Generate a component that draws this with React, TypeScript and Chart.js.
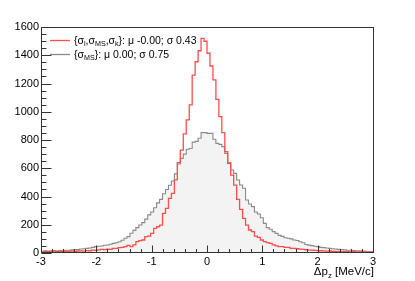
import { useEffect, useRef } from "react";
import { Chart, registerables } from "chart.js";

Chart.register(...registerables);

const X_MIN = -3;
const X_MAX = 3;
const Y_MIN = 0;
const Y_MAX = 1600;

// 112 bins from -3 to 3
const redValues = [
  8, 6, 10, 7, 9, 8, 11, 9, 10, 12,
  10, 13, 12, 14, 15, 13, 17, 16,
  20, 18, 22, 25, 24, 28,
  26, 33, 33, 38, 40, 45,
  54, 45, 57, 80, 87, 92,
  116, 120, 139, 175, 186, 198,
  281, 316, 387, 422, 517, 640, 729, 843,
  942, 1048, 1260, 1354, 1432, 1520,
  1499, 1414, 1324, 1225, 1088, 965, 852,
  717, 635, 552, 481, 380, 309, 245, 198,
  163, 151, 120, 111, 92, 80, 73, 68, 57, 50,
  45, 45, 40, 40, 33, 33, 30, 28, 25, 23,
  21, 20, 18, 17, 16, 15, 13, 14, 12, 11, 12, 10, 9, 10, 8, 9, 7, 8, 6, 7, 6,
];

const grayValues = [
  14, 12, 16, 13, 15, 17, 14, 18, 16, 19,
  20, 22, 25, 24, 28, 30, 33, 35,
  40, 45, 48, 50, 55, 57,
  62, 68, 73, 80, 90, 104,
  116, 140, 160, 180, 198, 215,
  240, 270, 290, 320, 355, 380,
  420, 450, 480, 510, 560, 630, 670, 700,
  735, 740, 785, 790, 812, 852,
  852, 847, 847, 805, 776, 769, 753,
  705, 640, 588, 564, 517, 481, 458, 375,
  347, 328, 290, 276, 250, 210, 180, 168, 151, 139,
  125, 118, 108, 104, 100, 92, 88, 80, 73, 60,
  56, 52, 48, 45, 40, 38, 35, 33, 30, 28, 26, 24, 22, 20, 19, 17, 16, 15, 13, 12, 11,
];

const legendRed = [
  { t: "{\u03c3" }, { t: "l", sub: true }, { t: ",\u03c3" }, { t: "MS", sub: true },
  { t: ",\u03c3" }, { t: "k", sub: true }, { t: "}: \u03bc -0.00; \u03c3 0.43" },
];
const legendGray = [
  { t: "{\u03c3" }, { t: "MS", sub: true }, { t: "}: \u03bc 0.00; \u03c3 0.75" },
];
const axisTitle = [{ t: "\u0394p" }, { t: "z", sub: true }, { t: " [MeV/c]" }];

const FONT_FAMILY = '"Liberation Sans", Arial, Helvetica, sans-serif';
const RED = "#ff4d4d";
const GRAY = "#8a8a8a";
const FILL = "rgb(243,243,243)";
const FRAME = "#333333";

type Part = { t: string; sub?: boolean };

function stepPoints(values: number[]) {
  const w = (X_MAX - X_MIN) / values.length;
  const pts = values.map((v, i) => ({ x: X_MIN + i * w, y: v }));
  pts.push({ x: X_MAX, y: values[values.length - 1] });
  return pts;
}

function richWidth(ctx: CanvasRenderingContext2D, parts: Part[], size: number) {
  let w = 0;
  for (const p of parts) {
    ctx.font = `${p.sub ? size * 0.68 : size}px ${FONT_FAMILY}`;
    w += ctx.measureText(p.t).width;
  }
  return w;
}

function drawRich(ctx: CanvasRenderingContext2D, parts: Part[], x: number, y: number, size: number) {
  let cx = x;
  ctx.textAlign = "left";
  ctx.textBaseline = "alphabetic";
  for (const p of parts) {
    ctx.font = `${p.sub ? size * 0.68 : size}px ${FONT_FAMILY}`;
    ctx.fillText(p.t, cx, p.sub ? y + size * 0.28 : y);
    cx += ctx.measureText(p.t).width;
  }
}

const rootStyle = {
  id: "rootStyle",
  afterDatasetsDraw(chart: any) {
    const { ctx, chartArea: a, scales } = chart;
    const xs = scales.x;
    const ys = scales.y;
    ctx.save();
    ctx.strokeStyle = FRAME;
    ctx.lineWidth = 1;
    // frame
    ctx.strokeRect(a.left + 0.5, a.top + 0.5, a.right - a.left, a.bottom - a.top - 1);
    // x ticks (inward)
    ctx.beginPath();
    for (let i = 0; i <= 30; i++) {
      const v = X_MIN + i * 0.2;
      const len = i % 5 === 0 ? 7 : 3.5;
      const px = Math.round(xs.getPixelForValue(v)) + 0.5;
      ctx.moveTo(px, a.bottom - 0.5);
      ctx.lineTo(px, a.bottom - 0.5 - len);
    }
    // y ticks (inward)
    for (let v = Y_MIN; v <= Y_MAX; v += 50) {
      const len = v % 200 === 0 ? 10 : 5;
      const py = Math.round(ys.getPixelForValue(v)) + 0.5;
      ctx.moveTo(a.left + 0.5, py);
      ctx.lineTo(a.left + 0.5 + len, py);
    }
    ctx.stroke();

    // legend
    ctx.lineWidth = 1.3;
    ctx.strokeStyle = RED;
    ctx.beginPath();
    ctx.moveTo(50, 40.5);
    ctx.lineTo(70, 40.5);
    ctx.stroke();
    ctx.strokeStyle = GRAY;
    ctx.beginPath();
    ctx.moveTo(50, 54.5);
    ctx.lineTo(70, 54.5);
    ctx.stroke();
    ctx.fillStyle = "#000";
    drawRich(ctx, legendRed, 74, 43.5, 10.5);
    drawRich(ctx, legendGray, 74, 57.5, 10.5);

    // axis title, right aligned
    const w = richWidth(ctx, axisTitle, 11.5);
    drawRich(ctx, axisTitle, a.right + 1 - w, 274.5, 11.5);
    ctx.restore();
  },
};

export default function App() {
  const ref = useRef<HTMLCanvasElement | null>(null);

  useEffect(() => {
    document.body.style.margin = "0";
    const canvas = ref.current;
    if (!canvas) return;
    const font = { family: FONT_FAMILY, size: 11 };
    const chart = new Chart(canvas, {
      type: "line",
      data: {
        datasets: [
          {
            label: "red",
            data: stepPoints(redValues),
            stepped: "after",
            borderColor: RED,
            borderWidth: 1.3,
            pointRadius: 0,
            fill: false,
          },
          {
            label: "gray",
            data: stepPoints(grayValues),
            stepped: "after",
            borderColor: GRAY,
            borderWidth: 1.1,
            pointRadius: 0,
            fill: "origin",
            backgroundColor: FILL,
          },
        ],
      },
      options: {
        responsive: false,
        animation: false,
        devicePixelRatio: 1,
        layout: { padding: { left: 0, top: 27, right: 42, bottom: 0 } },
        plugins: { legend: { display: false }, tooltip: { enabled: false } },
        elements: { point: { radius: 0 }, line: { tension: 0 } },
        scales: {
          x: {
            type: "linear",
            min: X_MIN,
            max: X_MAX,
            grid: { display: false, drawTicks: false },
            border: { display: false },
            ticks: {
              stepSize: 1,
              padding: 2,
              font,
              color: "#000",
              maxRotation: 0,
              autoSkip: false,
              callback: (v: any) => String(v),
            },
            afterFit: (s: any) => {
              s.height = 28;
            },
          },
          y: {
            type: "linear",
            min: Y_MIN,
            max: Y_MAX,
            grid: { display: false, drawTicks: false },
            border: { display: false },
            ticks: {
              stepSize: 200,
              padding: 2,
              font,
              color: "#000",
              callback: (v: any) => String(v),
            },
            afterFit: (s: any) => {
              s.width = 41;
            },
          },
        },
      } as any,
      plugins: [rootStyle],
    });
    return () => chart.destroy();
  }, []);

  return (
    <div style={{ width: 415, height: 281 }}>
      <canvas ref={ref} width={415} height={281} style={{ display: "block" }} />
    </div>
  );
}
